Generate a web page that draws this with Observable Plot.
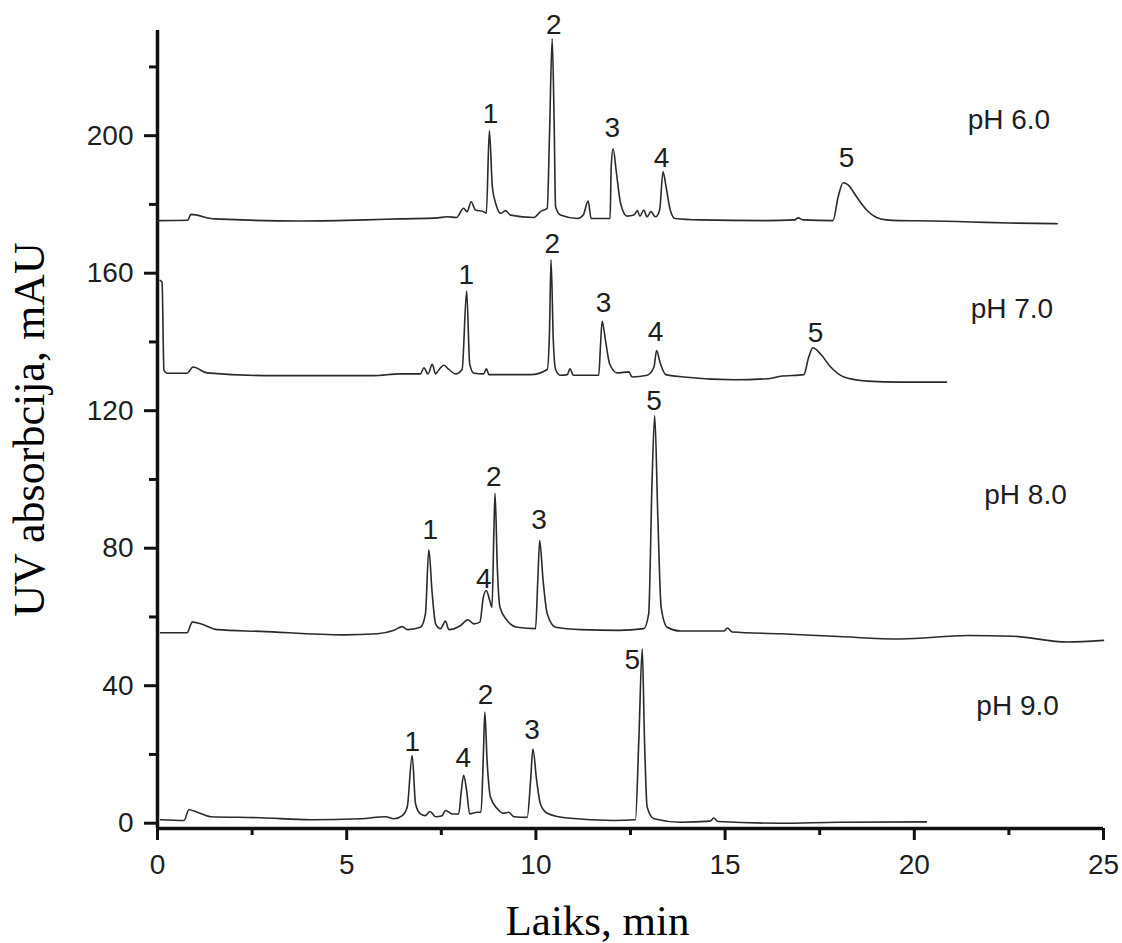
<!DOCTYPE html>
<html><head><meta charset="utf-8">
<script src="https://cdn.jsdelivr.net/npm/d3@7"></script>
<script src="https://cdn.jsdelivr.net/npm/@observablehq/plot@0.6"></script>
<style>body{margin:0;background:#fff}</style>
</head><body><div id="chart"></div>
<script>
// [time (min), absorbance (mAU)]
const ph60 = [[0,175.3],[0.8,175.4],[0.88,177.1],[1.5,175.8],[3.8,175.2],[5.5,175.5],[6.4,175.8],[7.4,176.1],[7.65,176.4],[7.9,176.2],[8.09,178.9],[8.18,177.9],[8.29,180.8],[8.4,178.4],[8.62,177.9],[8.69,177.4],[8.77,201.5],[8.85,185],[8.94,180.2],[9.07,177.4],[9.2,178.2],[9.33,176.9],[9.95,176.2],[10.12,177.9],[10.3,178.9],[10.36,200.5],[10.43,228.2],[10.48,205.4],[10.52,179.3],[10.65,176.9],[11.1,175.9],[11.25,176.9],[11.38,181.0],[11.46,175.9],[11.96,175.9],[11.99,190.9],[12.04,196.2],[12.13,189.0],[12.24,180.2],[12.41,176.6],[12.59,176.9],[12.68,178.2],[12.75,176.6],[12.85,178.4],[12.94,176.4],[13.04,177.9],[13.16,176.4],[13.27,178.4],[13.36,189.5],[13.44,185.1],[13.55,178.4],[13.68,175.9],[14.34,175.5],[16.1,175.3],[16.84,175.5],[16.93,176.1],[17.06,175.5],[17.85,175.3],[17.99,182.3],[18.12,186.3],[18.25,185.7],[18.47,182.3],[18.74,178.4],[19.0,176.2],[19.26,175.5],[19.6,175.3],[20.5,175.2],[21.5,174.9],[22.5,174.6],[23.78,174.4]];
const ph70 = [[0.07,157.9],[0.12,157.4],[0.17,131.7],[0.25,130.9],[0.78,130.9],[0.94,132.7],[1.31,131.0],[3.07,130.2],[5.71,130.2],[6.41,130.7],[6.95,130.7],[7.04,132.5],[7.15,130.7],[7.26,133.5],[7.35,130.7],[7.39,131.2],[7.57,133.2],[7.70,132.0],[7.88,130.7],[8.05,132.0],[8.17,154.8],[8.25,133.6],[8.36,130.9],[8.62,130.7],[8.69,132.2],[8.76,130.5],[9.86,130.5],[10.3,132.0],[10.36,143.3],[10.40,163.9],[10.46,140.4],[10.52,132.0],[10.65,130.3],[10.83,130.5],[10.9,132.2],[10.99,130.3],[11.66,130.3],[11.71,139.5],[11.75,146.0],[11.84,140.4],[11.95,133.6],[12.15,131.0],[12.46,131.3],[12.54,129.8],[12.94,130.3],[13.12,132.7],[13.19,137.5],[13.28,134.1],[13.43,130.5],[13.91,129.8],[15.23,129.0],[16.11,129.3],[16.46,130.0],[17.08,130.5],[17.21,135.6],[17.32,138.3],[17.52,136.5],[17.79,132.7],[18.14,129.8],[18.76,128.6],[19.64,128.3],[20.85,128.3]];
const ph80 = [[0.08,55.4],[0.78,55.4],[0.92,58.5],[1.14,58.0],[1.58,56.3],[2.72,55.8],[4.92,54.8],[5.81,55.1],[6.25,56.1],[6.47,57.2],[6.6,56.3],[6.95,57.0],[7.08,60.9],[7.17,79.5],[7.26,66.7],[7.35,58.0],[7.48,56.6],[7.61,58.8],[7.70,56.3],[8.01,57.5],[8.2,59.2],[8.36,58.0],[8.52,58.5],[8.61,65.7],[8.69,67.7],[8.78,64.8],[8.84,62.8],[8.89,85.1],[8.92,96.0],[8.98,74.5],[9.05,62.8],[9.24,59.0],[9.51,57.0],[9.99,56.6],[10.05,70.6],[10.10,82.2],[10.19,70.6],[10.30,60.9],[10.52,57.0],[11.18,56.3],[12.19,56.1],[12.85,56.6],[12.98,60.9],[13.07,99.7],[13.14,118.6],[13.22,90.0],[13.31,62.8],[13.47,57.0],[13.82,55.9],[14.97,55.9],[15.06,56.8],[15.19,55.6],[16.46,55.1],[18.0,54.3],[19.64,53.6],[21.4,54.6],[22.6,54.4],[24.04,52.7],[25,53.2]];
const ph90 = [[0.08,1.0],[0.7,0.8],[0.83,3.9],[1.05,3.2],[1.40,1.9],[2.72,1.6],[4.05,1.0],[5.36,1.3],[6.03,1.9],[6.25,1.3],[6.47,2.2],[6.6,4.7],[6.73,19.7],[6.82,5.6],[6.95,2.7],[7.08,2.2],[7.2,3.4],[7.35,1.9],[7.52,2.2],[7.61,3.7],[7.79,2.7],[7.96,2.7],[8.03,9.5],[8.09,13.9],[8.17,9.5],[8.25,2.7],[8.45,3.2],[8.55,3.2],[8.61,19.2],[8.65,32.3],[8.71,18.2],[8.80,7.6],[8.98,4.2],[9.14,2.9],[9.28,3.2],[9.42,1.9],[9.77,1.7],[9.86,12.4],[9.92,21.6],[10.02,12.4],[10.12,5.6],[10.30,2.9],[10.83,1.5],[12.06,0.8],[12.63,1.0],[12.72,24.1],[12.81,50.7],[12.87,24.1],[12.94,4.7],[13.12,1.3],[13.82,0.3],[14.61,0.6],[14.70,1.5],[14.81,0.5],[16.46,0.0],[18.0,0.3],[20.32,0.4]];

const seriesNames = ["pH 6.0", "pH 7.0", "pH 8.0", "pH 9.0"];
const seriesPoints = [ph60, ph70, ph80, ph90];
// series label positions (time, absorbance)
const seriesLabelT = [22.5, 22.58, 22.94, 22.73];
const seriesLabelV = [204.7, 149.7, 95.6, 34.2];

// peak number labels: [series index, label, time, absorbance]
const peakLabels = [
  [0,"1",8.80,206.3],[0,"2",10.47,232.1],[0,"3",12.02,202.1],[0,"4",13.32,193.4],[0,"5",18.21,193.4],
  [1,"1",8.16,159.4],[1,"2",10.43,168.4],[1,"3",11.79,151.3],[1,"4",13.16,142.8],[1,"5",17.39,142.5],
  [2,"1",7.21,85.2],[2,"4",8.62,71.1],[2,"2",8.89,100.7],[2,"3",10.08,88.1],[2,"5",13.12,122.8],
  [3,"1",6.73,23.6],[3,"4",8.08,18.9],[3,"2",8.67,37.2],[3,"3",9.90,27.0],[3,"5",12.55,47.4]
];

const xDomain = [0, 25];
const yDomain = [-1.54, 230.6];
const xTicks = [0, 5, 10, 15, 20, 25];
const xMinor = [2.5, 7.5, 12.5, 17.5, 22.5];
const yTicks = [0, 40, 80, 120, 160, 200];
const yMinor = [20, 60, 100, 140, 180, 220];
const xTitle = "Laiks, min";
const yTitle = "UV absorbcija, mAU";

const rows = seriesPoints.flatMap((pts, i) => pts.map(([t, v]) => ({series: seriesNames[i], t, v})));
const peaks = peakLabels.map(([s, label, t, v]) => ({series: seriesNames[s], label, t, v}));
const sLabels = seriesNames.map((name, i) => ({name, t: seriesLabelT[i], v: seriesLabelV[i]}));

const sans = "'Liberation Sans', Arial, Helvetica, sans-serif";
const serif = "'Liberation Serif', 'Times New Roman', Times, serif";
const ink = "#1e1e1e";

const chart = Plot.plot({
  width: 1122, height: 943,
  marginLeft: 157, marginRight: 19, marginTop: 30, marginBottom: 115,
  style: {fontFamily: sans, fontSize: "28px", color: ink, background: "#fff", overflow: "visible"},
  x: {domain: xDomain},
  y: {domain: yDomain},
  marks: [
    Plot.axisX({ticks: xMinor, tickSize: 7, tickFormat: () => "", label: null, strokeWidth: 3, stroke: "#111"}),
    Plot.axisX({ticks: xTicks, tickSize: 12, tickPadding: 14, label: null, strokeWidth: 3, stroke: "#111", fontSize: 28, fill: ink}),
    Plot.axisY({ticks: yMinor, tickSize: 8, tickFormat: () => "", label: null, strokeWidth: 3, stroke: "#111"}),
    Plot.axisY({ticks: yTicks, tickSize: 13, tickPadding: 11, label: null, strokeWidth: 3, stroke: "#111", fontSize: 28, fill: ink}),
    Plot.ruleX([xDomain[0]], {stroke: "#111", strokeWidth: 3.5}),
    Plot.ruleY([yDomain[0]], {stroke: "#111", strokeWidth: 3.5}),
    Plot.line(rows, {x: "t", y: "v", z: "series", stroke: "#2a2a2a", strokeWidth: 1.6, curve: "monotone-x"}),
    Plot.text(peaks, {x: "t", y: "v", text: "label", fontSize: 28, fill: ink}),
    Plot.text(sLabels, {x: "t", y: "v", text: "name", fontSize: 28, fill: ink}),
    Plot.text([yTitle], {text: d => d, frameAnchor: "left", textAnchor: "middle", lineAnchor: "middle", dx: -128, rotate: -90, fontFamily: serif, fontSize: 44, fill: "#000"}),
    Plot.text([xTitle], {text: d => d, frameAnchor: "bottom", textAnchor: "middle", lineAnchor: "middle", dx: -33, dy: 93, fontFamily: serif, fontSize: 43, fill: "#000"})
  ]
});
document.getElementById("chart").appendChild(chart);
</script>
</body></html>
